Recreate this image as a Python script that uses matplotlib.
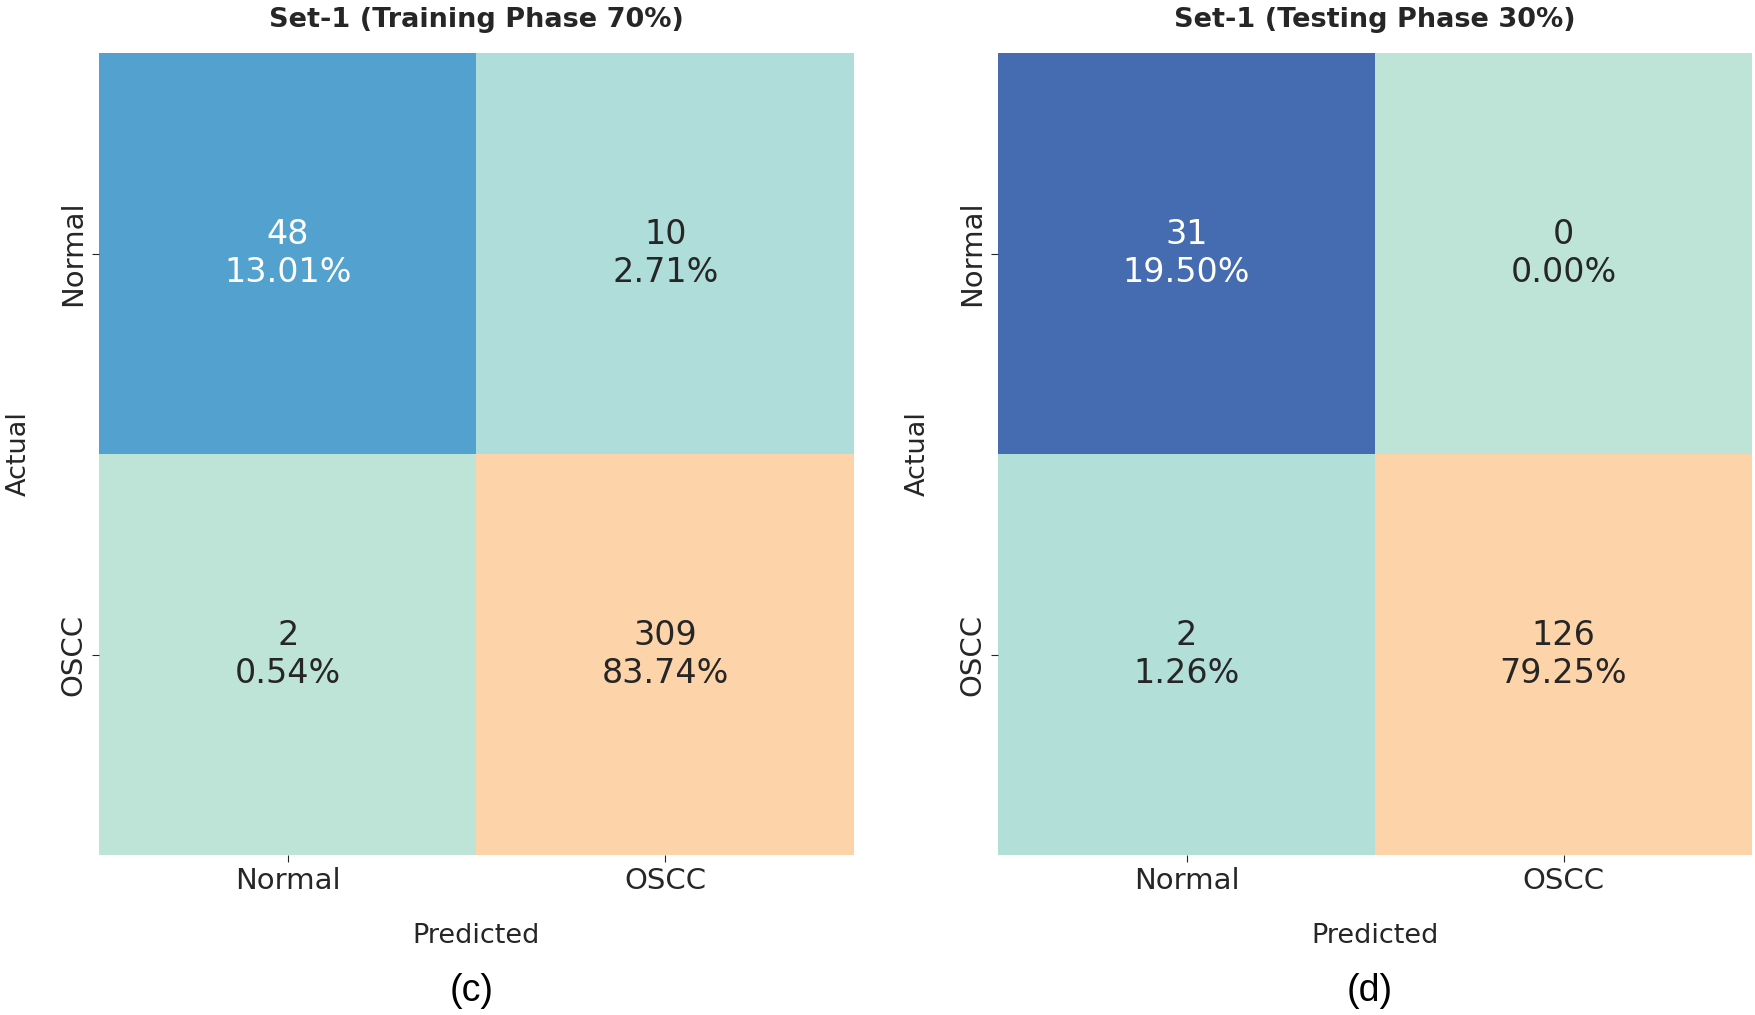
import matplotlib
matplotlib.use("Agg")
import matplotlib.pyplot as plt
import numpy as np
import seaborn as sns
from matplotlib.colors import LinearSegmentedColormap

classes = ["Normal", "OSCC"]
train_cm = [[48, 10], [2, 309]]
test_cm = [[31, 0], [2, 126]]
titles = ["Set-1 (Training Phase 70%)", "Set-1 (Testing Phase 30%)"]
panel_tags = ["(c)", "(d)"]

cmap = LinearSegmentedColormap.from_list(
    "cm", [(0.0, "#bee4d8"), (0.016, "#b3dfd9"), (0.026, "#aedcd9"),
           (0.156, "#4e9ecd"), (0.246, "#4569b0"), (0.6, "#a9c7c6"),
           (1.0, "#fdd3aa")])

plt.rcParams['font.family'] = ['DejaVu Sans']
txt = "#262626"

fig = plt.figure(figsize=(17.55, 10.15), dpi=100)
positions = [[0.0564, 0.1576, 0.4302, 0.7901], [0.5687, 0.1576, 0.4296, 0.7901]]

for k, cm in enumerate([train_cm, test_cm]):
    cm = np.array(cm)
    total = cm.sum()
    labels = np.array([["%d\n%.2f%%" % (v, 100.0 * v / total) for v in row] for row in cm])
    ax = fig.add_axes(positions[k])
    sns.heatmap(cm, annot=labels, fmt="", cmap=cmap, cbar=False, ax=ax,
                annot_kws={"fontsize": 24})
    ax.set_xticklabels(classes, fontsize=21, color=txt)
    ax.set_yticklabels(classes, fontsize=21, color=txt, rotation=90, va="center")
    ax.tick_params(colors=txt, length=5, width=0.8)
    ax.set_xlabel("Predicted", fontsize=19.5, color=txt, labelpad=20)
    ax.set_ylabel("Actual", fontsize=19.5, color=txt, labelpad=20)
    ax.set_title(titles[k], fontsize=19.5, fontweight="bold", color=txt, pad=19)
    cx = positions[k][0] + positions[k][2] / 2
    fig.text(cx - 0.003, 0.024, panel_tags[k], fontsize=27, family="Liberation Sans",
             ha="center", va="center", color="black")

fig.savefig("out.png", dpi=100)
